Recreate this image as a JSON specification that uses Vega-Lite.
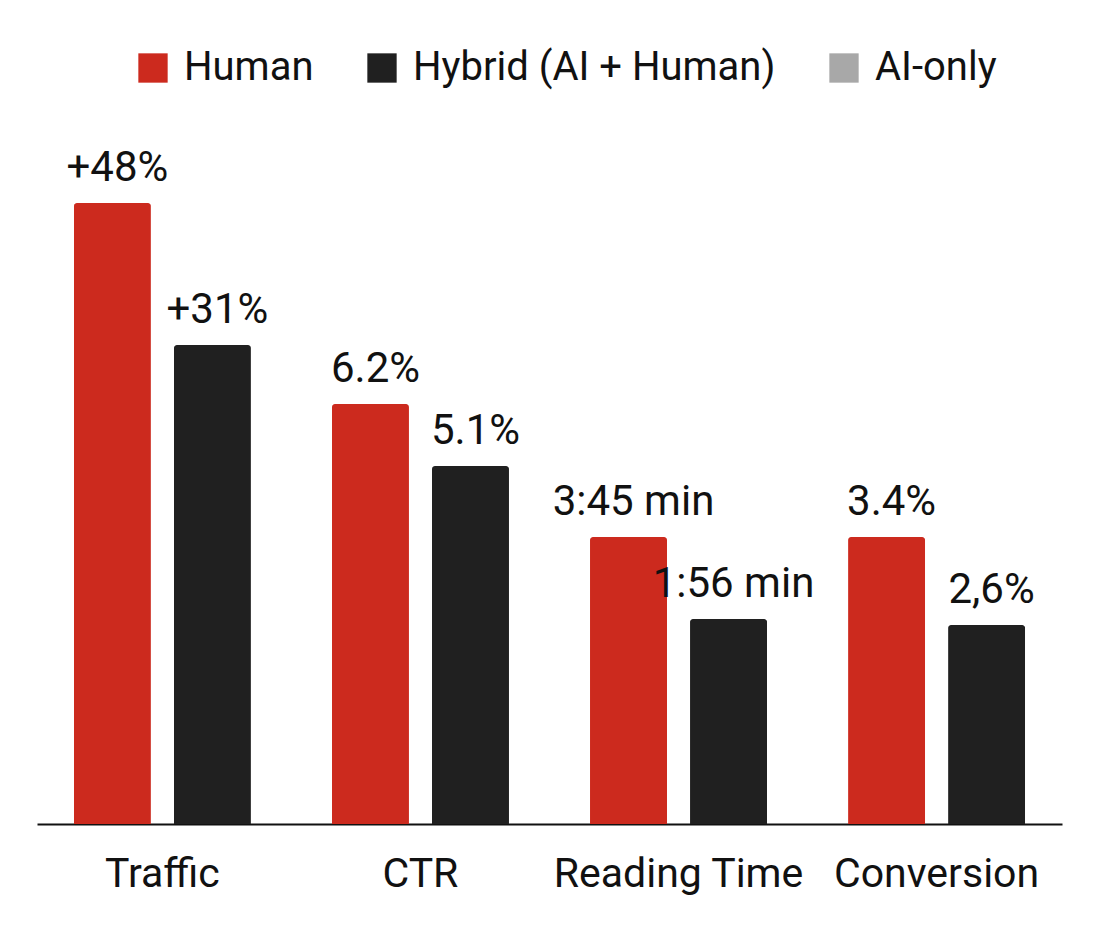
{
  "$schema": "https://vega.github.io/schema/vega-lite/v6.json",
  "width": 1025,
  "height": 704,
  "autosize": {"type": "none"},
  "padding": {"left": 37, "top": 120, "right": 47, "bottom": 103},
  "background": "#ffffff",
  "config": {
    "view": {"stroke": null},
    "font": "Roboto",
    "text": {"font": "Roboto"}
  },
  "data": {
    "values": [
      {"metric": "Traffic", "group": "Human", "height": 621, "label": "+48%"},
      {"metric": "Traffic", "group": "Hybrid (AI + Human)", "height": 479, "label": "+31%"},
      {"metric": "CTR", "group": "Human", "height": 420, "label": "6.2%"},
      {"metric": "CTR", "group": "Hybrid (AI + Human)", "height": 358, "label": "5.1%"},
      {"metric": "Reading Time", "group": "Human", "height": 287, "label": "3:45 min"},
      {"metric": "Reading Time", "group": "Hybrid (AI + Human)", "height": 205, "label": "1:56 min"},
      {"metric": "Conversion", "group": "Human", "height": 287, "label": "3.4%"},
      {"metric": "Conversion", "group": "Hybrid (AI + Human)", "height": 199, "label": "2,6%"}
    ]
  },
  "encoding": {
    "x": {
      "field": "metric",
      "type": "nominal",
      "sort": ["Traffic", "CTR", "Reading Time", "Conversion"],
      "scale": {"paddingInner": 0.314, "paddingOuter": 0.143},
      "title": null,
      "axis": {
        "labelAngle": 0,
        "labelFontSize": 41,
        "labelFont": "Roboto",
        "labelFontWeight": 400,
        "labelColor": "#111111",
        "labelPadding": 30,
        "labelLimit": 1000,
        "labelOverlap": false,
        "ticks": false,
        "domainColor": "#111111",
        "domainWidth": 2,
        "grid": false
      }
    },
    "xOffset": {
      "field": "group",
      "type": "nominal",
      "scale": {"domain": ["Human", "Hybrid (AI + Human)"], "paddingInner": 0.23, "paddingOuter": 0}
    },
    "y": {
      "field": "height",
      "type": "quantitative",
      "scale": {"domain": [0, 704], "nice": false},
      "axis": null
    }
  },
  "layer": [
    {
      "mark": {"type": "bar", "cornerRadiusTopLeft": 3, "cornerRadiusTopRight": 3},
      "encoding": {
        "color": {
          "field": "group",
          "type": "nominal",
          "scale": {
            "domain": ["Human", "Hybrid (AI + Human)", "AI-only"],
            "range": ["#CC2A1E", "#202020", "#A8A8A8"]
          },
          "legend": {
            "title": null,
            "orient": "none",
            "direction": "horizontal",
            "legendX": 96,
            "legendY": -72,
            "symbolType": "square",
            "symbolSize": 860,
            "symbolStrokeWidth": 0,
            "labelFontSize": 40,
            "labelFont": "Roboto",
            "labelColor": "#111111",
            "labelOffset": 11,
            "columnPadding": 48,
            "labelLimit": 600
          }
        }
      }
    },
    {
      "mark": {"type": "text", "baseline": "alphabetic", "align": "center", "dy": -22, "dx": 5, "fontSize": 42, "font": "Roboto", "color": "#111111"},
      "encoding": {"text": {"field": "label"}}
    }
  ]
}
